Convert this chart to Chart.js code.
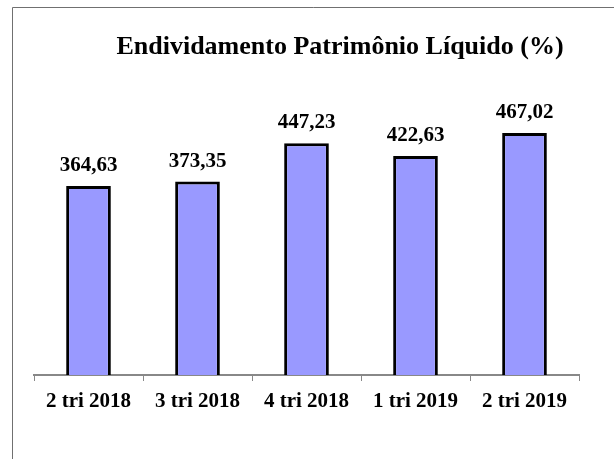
<!DOCTYPE html>
<html>
<head>
<meta charset="utf-8">
<script src="https://cdn.jsdelivr.net/npm/chart.js@4/dist/chart.umd.min.js"></script>
<style>
  html, body { margin: 0; padding: 0; background: #fff; }
  canvas { display: block; }
</style>
</head>
<body>
<canvas id="endivChart" width="614" height="459"></canvas>
<script>
var chartTitle = 'Endividamento Patrimônio Líquido (%)';
var quarters = ['2 tri 2018', '3 tri 2018', '4 tri 2018', '1 tri 2019', '2 tri 2019'];
var endividamento = [364.63, 373.35, 447.23, 422.63, 467.02];
var yMin = 0;
var yMax = 500;

function formatBR(v) {
	return v.toFixed(2).replace('.', ',');
}

// frame (top + left lines) and title
var framePlugin = {
	id: 'frame',
	beforeDraw: function(chart) {
		var ctx = chart.ctx;
		ctx.save();
		ctx.fillStyle = '#fff';
		ctx.fillRect(0, 0, chart.width, chart.height);
		ctx.strokeStyle = '#707070';
		ctx.lineWidth = 1;
		ctx.beginPath();
		ctx.moveTo(12.5, chart.height);
		ctx.lineTo(12.5, 7.5);
		ctx.lineTo(chart.width, 7.5);
		ctx.stroke();
		ctx.restore();
	},
	afterDraw: function(chart) {
		var ctx = chart.ctx;
		ctx.save();
		ctx.font = 'bold 26px "Liberation Serif"';
		ctx.fillStyle = '#000';
		ctx.textAlign = 'center';
		ctx.textBaseline = 'alphabetic';
		ctx.fillText(chartTitle, 340, 54);
		ctx.restore();
	}
};

// value labels above bars
var valueLabels = {
	id: 'valueLabels',
	afterDatasetsDraw: function(chart) {
		var ctx = chart.ctx;
		var meta = chart.getDatasetMeta(0);
		ctx.save();
		ctx.font = 'bold 21px "Liberation Serif"';
		ctx.fillStyle = '#000';
		ctx.textAlign = 'center';
		ctx.textBaseline = 'alphabetic';
		meta.data.forEach(function(bar, i) {
			ctx.fillText(formatBR(endividamento[i]), bar.x, bar.y - 15);
		});
		ctx.restore();
	}
};

var ctx = document.getElementById('endivChart').getContext('2d');
var chart = new Chart(ctx, {
	type: 'bar',
	data: {
		labels: quarters,
		datasets: [{
			data: endividamento,
			backgroundColor: '#9999FF',
			borderColor: '#000',
			borderWidth: 3,
			barPercentage: 0.41,
			categoryPercentage: 1.0
		}]
	},
	options: {
		responsive: false,
		animation: false,
		devicePixelRatio: 1,
		layout: {
			padding: { top: 116, left: 34, right: 35, bottom: 0 }
		},
		plugins: {
			legend: { display: false },
			title: { display: false },
			tooltip: { enabled: false }
		},
		scales: {
			x: {
				offset: true,
				afterFit: function(scale) { scale.height = 84; },
				grid: {
					display: true,
					drawOnChartArea: false,
					drawTicks: true,
					tickLength: 6,
					color: '#888',
					lineWidth: 1,
					offset: true
				},
				border: { display: true, color: '#888', width: 2 },
				ticks: {
					color: '#000',
					padding: 8,
					font: { family: '"Liberation Serif"', size: 21, weight: 'bold' }
				}
			},
			y: {
				display: false,
				min: yMin,
				max: yMax
			}
		}
	},
	plugins: [framePlugin, valueLabels]
});
</script>
</body>
</html>
